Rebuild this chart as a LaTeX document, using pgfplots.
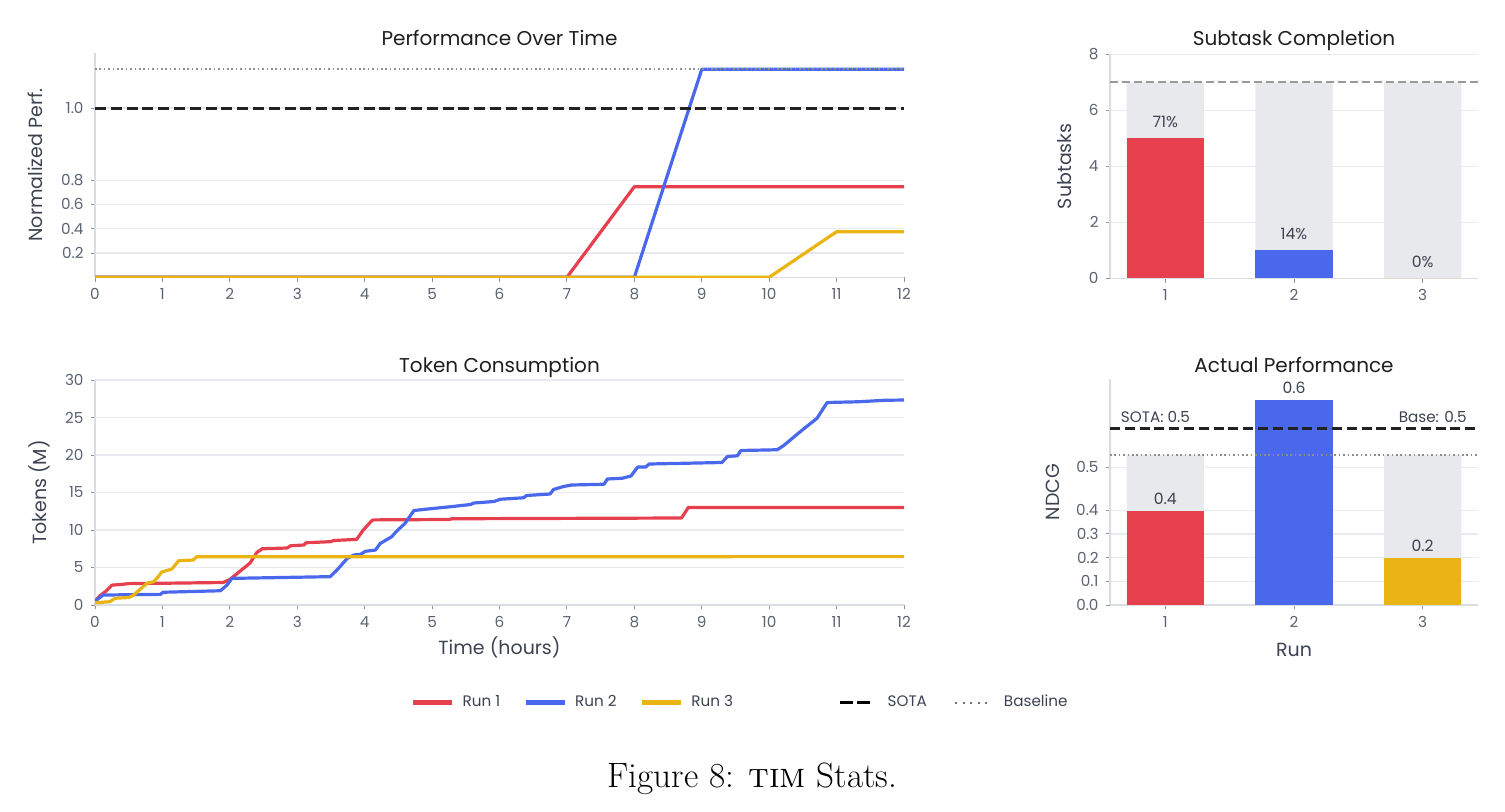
\documentclass[border=0pt]{standalone}
\usepackage{fontspec}
\usepackage{pgfplots}
\pgfplotsset{compat=1.18}
\newfontfamily\cf{Poppins}
\definecolor{cred}{HTML}{E6404F}
\definecolor{cblue}{HTML}{4A68EC}
\definecolor{corange}{HTML}{EAB414}
\definecolor{cbg}{HTML}{E8E9ED}
\definecolor{cgrid}{HTML}{E8EAEF}
\definecolor{caxis}{HTML}{D8DCE3}
\definecolor{ctick}{HTML}{5C6370}
\definecolor{clabel}{HTML}{3C4250}
\definecolor{ctitle}{HTML}{1E1E1E}
\definecolor{csota}{HTML}{222222}
\definecolor{cbase}{HTML}{8E8E8E}
\pgfplotsset{
  base/.style={
    scale only axis,
    axis x line*=bottom, axis y line*=left,
    axis line style={caxis, line width=0.6pt},
    tick align=outside, major tick length=2.2pt,
    tick style={ctick!70, line width=0.5pt},
    ymajorgrids, grid style={cgrid, line width=0.6pt},
    /pgf/number format/assume math mode=true,
    tick label style={font=\cf\fontsize{7.6}{8.5}\selectfont, text=ctick},
    label style={font=\cf\fontsize{9.5}{11}\selectfont, text=clabel},
    title style={font=\cf\fontsize{10}{12}\selectfont, text=ctitle, anchor=base},
  },
  run/.style={line width=1.6pt, line join=round},
}
\begin{document}
\begin{tikzpicture}
\path[use as bounding box] (0,0) rectangle (752.5pt,405.5pt);
% ---------- top left
\begin{axis}[base, at={(47.5pt,266.85pt)}, anchor=south west,
  width=404.5pt, height=112.3pt,
  xmin=0, xmax=12, ymin=0, ymax=1.849,
  xtick={0,...,12},
  ytick={0.2,0.4,0.6,0.8,1.393}, yticklabels={0.2,0.4,0.6,0.8,1.0},
  ylabel={Normalized Perf.},
  ylabel style={at={(axis description cs:-0.0742,0.5)}, anchor=center},
  title={Performance Over Time},
  title style={at={(axis description cs:0.5,1)}, yshift=-2.6pt},
]
\addplot[run, cred] coordinates {(0,0)(7,0)(8,0.746)(12,0.746)};
\addplot[run, cblue] coordinates {(0,0)(8,0)(9,1.712)(12,1.712)};
\addplot[run, corange] coordinates {(0,0)(10,0)(11,0.375)(12,0.375)};
\addplot[csota, line width=1.5pt, dash pattern=on 5.5pt off 2.4pt] coordinates {(0,1.393)(12,1.393)};
\addplot[cbase, line width=0.9pt, dash pattern=on 0.8pt off 1.4pt] coordinates {(0,1.712)(12,1.712)};
\end{axis}
% ---------- bottom left
\begin{axis}[base, at={(47.5pt,103pt)}, anchor=south west,
  width=404.5pt, height=112.5pt,
  xmin=0, xmax=12, ymin=0, ymax=30,
  xtick={0,...,12}, ytick={0,5,...,30},
  ylabel={Tokens (M)},
  ylabel style={at={(axis description cs:-0.0692,0.5)}, anchor=center},
  xlabel={Time (hours)},
  xlabel style={at={(axis description cs:0.5,-0.222)}, anchor=base},
  title={Token Consumption},
  title style={at={(axis description cs:0.5,1)}, yshift=-2pt},
  legend style={at={(axis description cs:0.3905,-0.434)}, anchor=west,
    draw=none, fill=none, inner sep=0pt, outer sep=0pt,
    font=\cf\fontsize{7.6}{9}\selectfont, text=clabel,
    /tikz/every odd column/.append style={column sep=2pt},
    /tikz/every even column/.append style={column sep=9.5pt}},
  legend columns=3,
  legend image code/.code={\draw[#1, line width=2.4pt] (0pt,0pt) -- (19.5pt,0pt);},
]
\addplot[run, cred] coordinates {
(0,0.5)(0.07,1.2)(0.17,1.9)(0.25,2.65)(0.4,2.75)(0.5,2.85)(1.0,2.9)(1.9,3.0)
(2.0,3.4)(2.15,4.5)(2.3,5.6)(2.4,7.0)(2.48,7.5)(2.85,7.6)(2.9,7.9)(3.1,8.0)
(3.13,8.3)(3.5,8.45)(3.54,8.6)(3.88,8.75)(3.98,10.0)(4.1,11.2)(4.13,11.35)
(5.25,11.4)(5.3,11.5)(8.7,11.6)(8.8,13.0)(12,13.0)};
\addplot[run, cblue] coordinates {
(0,0.5)(0.12,1.33)(0.97,1.42)(1.01,1.7)(1.86,1.9)(1.96,2.67)(2.03,3.55)
(3.49,3.78)(3.59,4.67)(3.74,6.2)(3.84,6.67)(3.94,6.76)(4.01,7.16)(4.16,7.33)
(4.23,8.2)(4.4,9.1)(4.48,9.9)(4.6,10.9)(4.73,12.6)(4.98,12.84)(5.27,13.1)
(5.57,13.4)(5.62,13.6)(5.92,13.8)(6.01,14.1)(6.36,14.3)(6.4,14.6)(6.75,14.8)
(6.8,15.4)(6.95,15.8)(7.07,16.0)(7.55,16.1)(7.6,16.8)(7.82,16.9)(7.95,17.2)
(8.05,18.4)(8.17,18.4)(8.22,18.8)(9.3,19.0)(9.38,19.8)(9.53,19.9)(9.58,20.6)
(10.12,20.7)(10.22,21.3)(10.46,23.1)(10.71,24.9)(10.86,27.0)(11.33,27.1)
(11.72,27.3)(12,27.33)};
\addplot[run, corange] coordinates {
(0,0.3)(0.22,0.44)(0.3,0.9)(0.5,1.0)(0.57,1.3)(0.67,2.1)(0.77,2.9)(0.87,3.1)
(0.94,3.8)(0.99,4.4)(1.14,4.8)(1.24,5.9)(1.46,6.0)(1.51,6.44)(12,6.45)};
\legend{Run 1, Run 2, Run 3}
\end{axis}
% ---------- top right
\begin{axis}[base, at={(555pt,266.35pt)}, anchor=south west,
  width=184pt, height=112pt,
  xmin=0.57, xmax=3.43, ymin=0, ymax=8,
  xtick={1,2,3}, ytick={0,2,...,8},
  ylabel={Subtasks},
  ylabel style={at={(axis description cs:-0.124,0.5)}, anchor=center},
  title={Subtask Completion},
  title style={at={(axis description cs:0.5,1)}, yshift=-1.8pt},
  nodes near coords style={font=\cf\fontsize{7.8}{9}\selectfont, text=clabel, anchor=center, yshift=8.4pt},
]
\addplot[ybar, bar width=0.6, bar shift=0pt, fill=cbg, draw=none] coordinates {(1,7)(2,7)(3,7)};
\addplot[ybar, bar width=0.6, bar shift=0pt, fill=cred, draw=none,
  nodes near coords, point meta=explicit symbolic] coordinates {(1,5)[71\%]};
\addplot[ybar, bar width=0.6, bar shift=0pt, fill=cblue, draw=none,
  nodes near coords, point meta=explicit symbolic] coordinates {(2,1)[14\%]};
\addplot[ybar, bar width=0.6, bar shift=0pt, fill=corange, draw=none,
  nodes near coords, point meta=explicit symbolic] coordinates {(3,0)[0\%]};
\addplot[cbase!90, line width=0.9pt, dash pattern=on 4pt off 2pt] coordinates {(0.57,7)(3.43,7)};
\end{axis}
% ---------- bottom right
\begin{axis}[base, at={(555pt,103pt)}, anchor=south west,
  width=184pt, height=113pt,
  xmin=0.57, xmax=3.43, ymin=0, ymax=0.954,
  xtick={1,2,3},
  ytick={0,0.1,0.2,0.3,0.4,0.582}, yticklabels={0.0,0.1,0.2,0.3,0.4,0.5},
  ylabel={NDCG},
  ylabel style={at={(axis description cs:-0.155,0.5)}, anchor=center},
  xlabel={Run},
  xlabel style={at={(axis description cs:0.5,-0.226)}, anchor=base},
  title={Actual Performance},
  title style={at={(axis description cs:0.5,1)}, yshift=-2.8pt},
  nodes near coords style={font=\cf\fontsize{7.8}{9}\selectfont, text=clabel, anchor=center, yshift=6pt},
  legend style={at={(axis description cs:-0.739,-0.432)}, anchor=west,
    draw=none, fill=none, inner sep=0pt, outer sep=0pt,
    font=\cf\fontsize{7.6}{9}\selectfont, text=clabel,
    /tikz/every odd column/.append style={column sep=6pt},
    /tikz/every even column/.append style={column sep=11.5pt}},
  legend columns=2,
]
\addplot[ybar, bar width=0.6, bar shift=0pt, fill=cbg, draw=none, forget plot] coordinates {(1,0.633)(2,0.633)(3,0.633)};
\addplot[ybar, bar width=0.6, bar shift=0pt, fill=cred, draw=none, forget plot,
  nodes near coords, point meta=explicit symbolic] coordinates {(1,0.397)[0.4]};
\addplot[ybar, bar width=0.6, bar shift=0pt, fill=cblue, draw=none, forget plot,
  nodes near coords, point meta=explicit symbolic] coordinates {(2,0.865)[0.6]};
\addplot[ybar, bar width=0.6, bar shift=0pt, fill=corange, draw=none, forget plot,
  nodes near coords, point meta=explicit symbolic] coordinates {(3,0.2)[0.2]};
\addplot[csota, line width=1.3pt, dash pattern=on 5pt off 2.4pt, forget plot] coordinates {(0.57,0.744)(3.43,0.744)};
\addplot[cbase, line width=0.9pt, dash pattern=on 0.8pt off 1.4pt, forget plot] coordinates {(0.57,0.633)(3.43,0.633)};
\node[anchor=base west, font=\cf\fontsize{7.6}{9}\selectfont, text=clabel, inner sep=0pt] at (axis cs:0.652,0.769) {SOTA: 0.5};
\node[anchor=base east, font=\cf\fontsize{7.6}{9}\selectfont, text=clabel, inner sep=0pt] at (axis cs:3.345,0.769) {Base: 0.5};
\addlegendimage{legend image code/.code={\draw[black, line width=1.8pt, dash pattern=on 6.5pt off 2pt] (0pt,0pt) -- (15pt,0pt);}}
\addlegendentry{SOTA}
\addlegendimage{legend image code/.code={\draw[cbase!80!black, line width=1pt, dash pattern=on 1pt off 2.8pt] (0pt,0pt) -- (16pt,0pt);}}
\addlegendentry{Baseline}
\end{axis}
\node[anchor=base, font=\fontsize{17.6}{21}\selectfont] at (376.25pt,12pt) {Figure 8: \textsc{tim} Stats.};
\end{tikzpicture}
\end{document}
